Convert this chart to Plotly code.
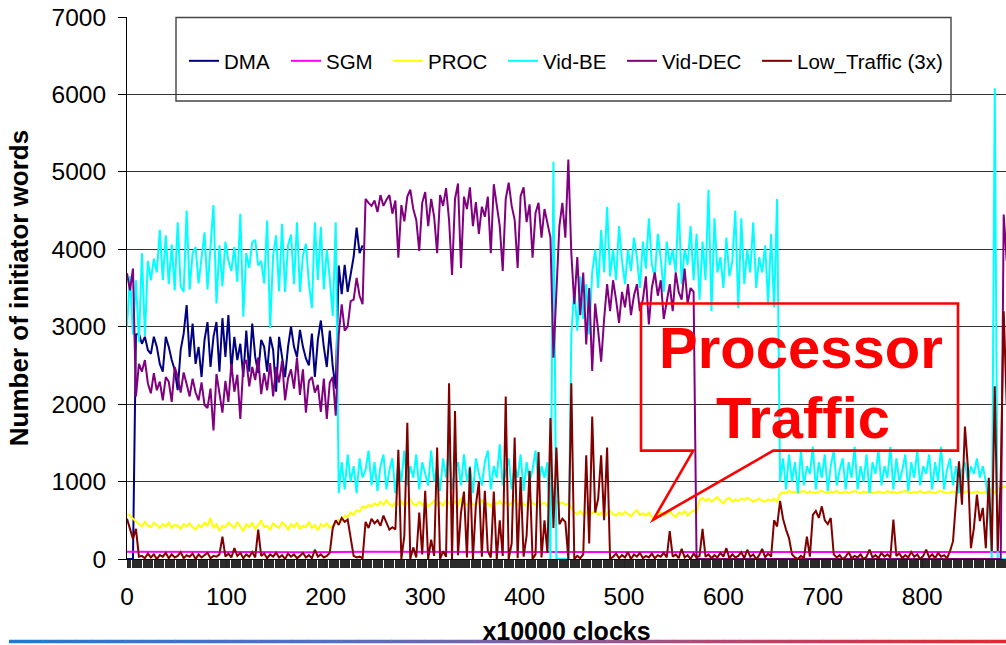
import plotly.graph_objects as go

FONT = "Liberation Sans, Arial, sans-serif"
STEP = 3  # sample spacing (x10000 clocks)

# ---------------- data ----------------
x_ticks = [0, 100, 200, 300, 400, 500, 600, 700, 800]
names = ["DMA", "SGM", "PROC", "Vid-BE", "Vid-DEC", "Low_Traffic (3x)"]
colors = ["#000080", "#FF00FF", "#FFFF00", "#00FFFF", "#800080", "#800000"]

dma_start = 0
dma = [0, 0, 0, 2900, 2910, 2780, 2870, 2700, 2650, 2870,
       2740, 2520, 2420, 2870, 2740, 2570, 2440, 2180, 2700, 2910,
       3280, 2610, 3040, 2520, 2740, 2350, 2830, 3060, 2480, 2870,
       3060, 2420, 3110, 2610, 3150, 2440, 2870, 2570, 2780, 2350,
       2950, 2420, 3040, 2610, 2400, 2830, 2740, 2420, 2870, 2700,
       2160, 2870, 2610, 2350, 2740, 3000, 2740, 2610, 2960, 2740,
       2590, 2500, 2910, 2350, 2830, 3080, 2740, 2480, 2950, 2480,
       2200, 3790, 3420, 3800, 3450, 3700, 3900, 4280, 3950, 4050]

sgm_x = [0, 60, 120, 180, 240, 300, 360, 420, 480, 540, 600, 660, 720, 780, 840, 885]
sgm = [95, 90, 92, 88, 93, 90, 91, 89, 92, 90, 88, 91, 90, 92, 89, 90]

proc_start = 0
proc = [580, 560, 520, 490, 460, 420, 480, 430, 410, 470,
        440, 400, 450, 420, 470, 400, 440, 430, 390, 450,
        420, 460, 410, 380, 440, 410, 470, 430, 530, 400,
        450, 360, 430, 410, 470, 440, 400, 480, 420, 360,
        450, 410, 470, 390, 440, 500, 410, 430, 380, 460,
        420, 400, 470, 440, 380, 450, 410, 470, 390, 430,
        410, 480, 400, 440, 370, 450, 420, 460, 400, 430,
        470, 510, 490, 560, 540, 600, 570, 630, 610, 680,
        660, 700, 680, 720, 690, 740, 700, 760, 710, 680,
        730, 700, 750, 690, 720, 770, 710, 690, 740, 700,
        730, 680, 720, 750, 700, 730, 690, 760, 720, 700,
        740, 680, 790, 720, 700, 740, 710, 690, 730, 760,
        700, 720, 680, 740, 710, 750, 700, 730, 690, 720,
        760, 700, 740, 710, 690, 770, 720, 700, 740, 710,
        730, 690, 720, 700, 750, 710, 730, 700, 720, 660,
        600, 580, 620, 570, 600, 560, 590, 620, 570, 600,
        550, 590, 620, 580, 560, 600, 570, 610, 580, 550,
        600, 630, 570, 590, 560, 600, 540, 510, 570, 600,
        560, 590, 620, 570, 540, 600, 580, 620, 560, 600,
        630, 590, 760, 790, 750, 780, 740, 770, 800, 750,
        720, 770, 790, 740, 770, 750, 780, 760, 790, 770,
        740, 760, 780, 750, 740, 770, 750, 780, 740, 840,
        860, 850, 880, 860, 870, 850, 860, 880, 850, 870,
        860, 850, 870, 880, 860, 850, 870, 860, 880, 850,
        860, 870, 850, 860, 880, 860, 850, 870, 860, 880,
        850, 860, 870, 860, 850, 880, 860, 870, 850, 860,
        870, 880, 860, 850, 870, 860, 880, 850, 860, 870,
        860, 850, 870, 880, 860, 850, 860, 870, 860, 850,
        870, 860, 880, 850, 860, 870, 860, 850, 870, 880,
        900, 850, 920, 900, 940, 920]

vidbe_1_start = 0
vidbe_1 = [3000, 3650, 2900, 3600, 2800, 3950, 2880, 3850, 3600, 3880,
           3700, 4250, 3600, 4180, 3550, 4060, 3470, 4350, 3520, 3450,
           4500, 3480, 3950, 4030, 3560, 3930, 4220, 3480, 3980, 4570,
           3300, 4050, 3520, 4100, 3850, 3720, 4030, 3580, 4460, 3130,
           3950, 3760, 4090, 4120, 3790, 3850, 3560, 4370, 2980, 3920,
           4180, 3460, 4330, 3450, 4050, 4190, 3550, 4350, 3450, 3920,
           4070, 3560, 3240, 4350, 3600, 4290, 3480, 4000, 3620, 3140,
           4350]
vidbe_2_start = 213
vidbe_2 = [850, 1250, 900, 1350, 1000, 1200, 850, 1300, 1050, 1150,
           1400, 950, 1250, 880, 1200, 1350, 900, 1150, 1300, 850,
           1250, 1000, 1400, 950, 1200, 1050, 1350, 900, 1250, 1100,
           950, 1400, 1000, 1200, 880, 1300, 1050, 1450, 900, 1150,
           1250, 950, 1350, 1000, 1200, 850, 1300, 1100, 950, 1250,
           1400, 900, 1200, 1050, 1480, 950, 1150, 1300, 900, 1200,
           1050, 1350, 880, 1250, 1000, 1150, 1400, 950, 1200, 1050,
           1250]
vidbe_3_start = 426
vidbe_3 = [0, 5130, 0, 0, 0, 0, 0,
           2900, 3500, 2950, 3650, 3100, 3550, 2900, 3700,
           4000, 3500, 4250, 3700, 4550, 3650, 4000, 3600, 4300, 3850,
           3550, 4000, 3720, 4150, 3900, 3500, 4100, 3750, 4400, 3800,
           3650, 4200, 3880, 3450, 4100, 3800, 4000, 3700, 4600, 3550,
           4000, 3800, 4300, 3600, 4200, 3350, 4100, 3600, 4770, 3200,
           4400, 3700, 3900, 3500, 4150, 3650, 3850, 4500, 3240, 4400,
           3550, 4000, 3700, 4350, 3500, 3900, 3700, 4050, 3300, 4200,
           3250, 4650]
vidbe_4_start = 657
vidbe_4 = [1000, 1300, 900, 1350, 1000, 1250, 850, 1400, 950, 1200,
           1100, 1450, 900, 1250, 1050, 1350, 880, 1200, 1400, 950,
           1150, 1300, 900, 1250, 1050, 1450, 900, 1200, 1000, 1350,
           850, 1250, 1100, 1400, 950, 1200, 1050, 1450, 900, 1300,
           1000, 1150, 1350, 880, 1250, 1050, 1400, 950, 1200, 1100,
           1350, 900, 1250, 1000, 1450, 900, 1150, 1300, 950, 1200,
           850, 1150, 1250, 1000, 1200, 1100, 1300, 1050, 1200, 1000,
           700, 0, 6080, 0, 0, 0, 0]

viddec_start = 0
viddec = [3690, 3470, 3750, 2100, 2520, 2420, 2570, 2270, 2140, 2400,
          2180, 2290, 2050, 2350, 2290, 2030, 2480, 2350, 2150, 2410,
          2260, 2100, 2330, 2150, 2050, 2280, 1990, 1950, 2200, 1660,
          2390, 2150, 1890, 2300, 2030, 2520, 2160, 2380, 1810, 2500,
          2570, 2230, 2480, 2310, 2600, 2130, 2400, 2180, 2530, 2100,
          2480, 2280, 2560, 2050, 2330, 2450, 2200, 2600, 2120, 2450,
          1890, 2300, 2350, 2150, 2250, 1900, 2330, 1810, 2280, 2350,
          1850, 2900, 3290, 2950, 3000, 3330, 3350, 3630, 3400, 3290,
          4650, 4600, 4560, 4630, 4480, 4700, 4560, 4640, 4700, 4460,
          4630, 3890, 4570, 4360, 4680, 4770, 4520, 4380, 3980, 4600,
          4740, 4300, 4650, 4420, 3950, 4700, 4560, 4790, 4380, 3670,
          4650, 4850, 3760, 4680, 4520, 4800, 4300, 4610, 4200, 4550,
          4420, 4680, 3950, 4840, 4600, 4300, 3720, 4650, 4860, 4560,
          4380, 3760, 4690, 4800, 4350, 4580, 3890, 4470, 4600, 4150,
          4520, 4350, 4150, 2600, 3540, 4300, 4600, 4150, 5160, 3950,
          3290, 3900, 3150, 3700, 2770, 3500, 2430, 3300, 2950, 2550,
          3100, 3550, 3200, 3600, 3350, 3050, 3450, 3250, 3550, 3150,
          3400, 3550, 3200, 3350, 3650, 3030, 3500, 3700, 3400, 3600,
          3100, 3350, 3550, 3200, 3700, 3450, 3350, 3750, 3300, 3500,
          3450, 0]
viddec_tail_x = [576, 879, 882, 885]
viddec_tail = [0, 0, 4450, 3850]

low_start = 0
low = [520, 380, 260, 390, 30, 40, 10, 70, 20, 60,
       0, 50, 30, 80, 10, 60, 20, 40, 90, 10,
       50, 30, 70, 0, 60, 20, 50, 80, 10, 40,
       30, 60, 290, 30, 70, 20, 140, 40, 80, 10,
       60, 30, 90, 20, 380, 40, 70, 10, 60, 30,
       80, 20, 50, 0, 70, 30, 60, 10, 40, 80,
       20, 50, 10, 120, 30, 60, 20, 40, 80, 400,
       500, 440, 530, 480, 510, 300, 40, 20, 30, 10,
       480, 400, 520, 460, 500, 430, 560, 470, 380, 410,
       380, 1410, 0, 300, 1760, 0, 150, 20, 600, 60,
       880, 0, 250, 40, 1440, 0, 100, 30, 2270, 0,
       1910, 50, 600, 870, 20, 1180, 0, 700, 1000, 30,
       880, 100, 20, 870, 0, 500, 40, 2100, 0, 200,
       1570, 10, 1060, 30, 300, 1140, 0, 60, 1380, 20,
       500, 80, 1820, 400, 1440, 450, 520, 480, 0, 2270,
       0, 40, 10, 60, 1340, 200, 1840, 600, 780, 1340,
       500, 1440, 0, 30, 70, 10, 50, 20, 90, 0,
       60, 30, 80, 10, 40, 20, 70, 10, 50, 30,
       80, 20, 360, 30, 60, 10, 130, 20, 50, 0,
       70, 20, 40, 390, 30, 60, 10, 50, 20, 80,
       30, 140, 10, 60, 20, 40, 90, 10, 120, 30,
       60, 0, 50, 130, 20, 70, 30, 500, 420, 750,
       520, 380, 270, 60, 20, 0, 40, 10, 290, 30,
       570, 620, 530, 680, 500, 450, 530, 60, 20, 50,
       0, 30, 90, 10, 40, 20, 60, 0, 30, 120,
       20, 50, 10, 80, 30, 60, 20, 510, 40, 70,
       10, 50, 20, 90, 30, 60, 0, 40, 120, 20,
       60, 10, 80, 30, 50, 10, 100, 230, 790, 1260,
       700, 1710, 1180, 140, 400, 830, 490, 660, 140, 1050,
       100, 2230, 100, 1050, 3200, 2000]


def grid(start, vals):
    return [start + STEP * i for i in range(len(vals))]


series = [
    (grid(dma_start, dma), dma),
    (sgm_x, sgm),
    (grid(proc_start, proc), proc),
    (grid(vidbe_1_start, vidbe_1) + grid(vidbe_2_start, vidbe_2)
     + grid(vidbe_3_start, vidbe_3) + grid(vidbe_4_start, vidbe_4),
     vidbe_1 + vidbe_2 + vidbe_3 + vidbe_4),
    (grid(viddec_start, viddec) + viddec_tail_x, viddec + viddec_tail),
    (grid(low_start, low), low),
]

# ---------------- figure ----------------
W, H = 1006, 645
ML, MR, MT, MB = 127, 0, 17, 86
PW, PH = W - ML - MR, H - MT - MB
X_MAX = 884.3


def px_x(px):
    return (px - ML) / PW


def px_y(py):
    return (H - MB - py) / PH


fig = go.Figure()
for i, ((xs, ys), name, col) in enumerate(zip(series, names, colors)):
    fig.add_trace(go.Scatter(
        x=xs, y=ys, mode="lines", name=name,
        line=dict(color=col, width=2),
        legend="legend" if i == 0 else f"legend{i + 1}",
        hoverinfo="skip",
    ))

legend_px = [184, 286, 388, 503, 622, 757]
legends = {}
for i, lx in enumerate(legend_px):
    key = "legend" if i == 0 else f"legend{i + 1}"
    legends[key] = dict(
        x=px_x(lx), y=px_y(61), xanchor="left", yanchor="middle",
        bgcolor="rgba(0,0,0,0)", borderwidth=0,
        font=dict(family=FONT, size=20.5, color="black"),
    )

shapes = [
    # legend frame
    dict(type="rect", xref="paper", yref="paper",
         x0=px_x(176), x1=px_x(951), y0=px_y(101), y1=px_y(17.5),
         line=dict(color="#444444", width=1.4), fillcolor="white", layer="between"),
    # callout box with pointer to the PROC line
    dict(type="path", xref="x", yref="y",
         path="M 569.7,1400 L 517.1,1400 L 517.1,3300 L 836,3300 L 836,1400 "
              "L 650.2,1400 L 529.5,509 Z",
         line=dict(color="#FF0000", width=2.6), fillcolor="rgba(0,0,0,0)", layer="above"),
]

# decorative gradient rule at the bottom of the slide
stops = [(9, (33, 121, 208)), (330, (84, 110, 196)), (520, (125, 95, 165)),
         (700, (175, 75, 120)), (1006, (225, 42, 42))]
nseg = 60
for k in range(nseg):
    a = 9 + (1006 - 9) * k / nseg
    b = 9 + (1006 - 9) * (k + 1) / nseg
    m = (a + b) / 2
    for j in range(len(stops) - 1):
        if stops[j][0] <= m <= stops[j + 1][0]:
            t = (m - stops[j][0]) / (stops[j + 1][0] - stops[j][0])
            c = [round(stops[j][1][q] + t * (stops[j + 1][1][q] - stops[j][1][q])) for q in range(3)]
            break
    shapes.append(dict(type="line", xref="paper", yref="paper",
                       x0=px_x(a), x1=px_x(b + 0.5), y0=px_y(641.5), y1=px_y(641.5),
                       line=dict(color=f"rgb({c[0]},{c[1]},{c[2]})", width=3.5)))

annotations = [
    dict(x=677.9, y=2738, xref="x", yref="y", text="Processor", showarrow=False,
         xanchor="center", yanchor="middle",
         font=dict(family=FONT, size=58, color="#FF0000", weight="bold")),
    dict(x=680.4, y=1833, xref="x", yref="y", text="Traffic", showarrow=False,
         xanchor="center", yanchor="middle",
         font=dict(family=FONT, size=58, color="#FF0000", weight="bold")),
]

fig.update_layout(
    template="none",
    width=W, height=H, autosize=False,
    margin=dict(l=ML, r=MR, t=MT, b=MB, pad=0),
    paper_bgcolor="white", plot_bgcolor="white",
    font=dict(family=FONT, color="black"),
    showlegend=True,
    shapes=shapes, annotations=annotations,
    **legends,
)

# dense category tick band along the bottom axis (light gap every 11th slot)
band_ticks = [v for v in range(0, 886) if v % 11 != 5]

fig.update_xaxes(
    range=[0, X_MAX], automargin=False,
    showgrid=False, zeroline=False,
    showline=True, linecolor="black", linewidth=1,
    tickmode="linear", tick0=0, dtick=100,
    ticks="outside", ticklen=8, tickcolor="#222222", tickwidth=1,
    minor=dict(tickmode="array", tickvals=band_ticks, ticks="outside", ticklen=8,
               tickcolor="#2a2a2a", tickwidth=1, showgrid=False),
    ticklabelstandoff=8,
    tickfont=dict(family=FONT, size=24.5, color="black"),
    title=dict(text="x10000 clocks", standoff=13,
               font=dict(family=FONT, size=25, color="black", weight="bold")),
)
fig.update_yaxes(
    range=[0, 7000], automargin=False,
    tickmode="linear", tick0=0, dtick=1000,
    showgrid=True, gridcolor="#333333", gridwidth=1,
    zeroline=False, showline=True, linecolor="black", linewidth=1,
    ticks="outside", ticklen=8, tickcolor="black", tickwidth=1,
    ticklabelstandoff=7,
    tickfont=dict(family=FONT, size=24.5, color="black"),
    title=dict(text="Number of initiator words", standoff=15,
               font=dict(family=FONT, size=26, color="black", weight="bold")),
)

fig.write_html("out.html", config={"displayModeBar": False},
               post_script="document.body.style.margin='0';")
